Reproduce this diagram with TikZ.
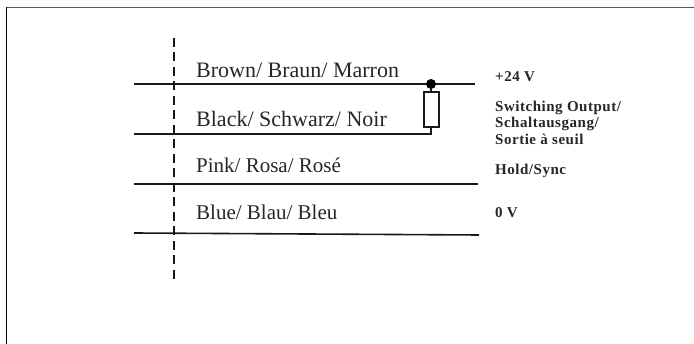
\documentclass[tikz,border=0pt]{standalone}
\usepackage{fontspec}
\setmainfont{Liberation Serif}
\newfontfamily\sigfont[LetterSpace=3.5]{Liberation Serif}
\tikzset{
  wire/.style={line width=2pt,black!90},
  thin wire/.style={line width=1.6pt,black!90},
  wirelabel/.style={anchor=base west,inner sep=0pt,font=\fontsize{22}{24}\selectfont,text=black!85},
  wirelabelb/.style={wirelabel,font=\fontsize{21}{24}\selectfont},
  sigshort/.style={anchor=base west,inner sep=0pt,font=\sigfont\fontsize{15}{15}\selectfont\bfseries,text=black!85,align=left},
  res/.style={draw=black!90,line width=2pt,fill=white,minimum width=15pt,minimum height=35pt,inner sep=0pt},
  dot/.style={circle,fill=black,inner sep=0pt,minimum size=10pt}
}
\begin{document}
\begin{tikzpicture}[x=1pt,y=-1pt]
\useasboundingbox (0,0) rectangle (694,344);
% frame
\coordinate (fa) at (6.5,344); \coordinate (fb) at (6.5,7.5); \coordinate (fc) at (694,7.5);
\draw[line width=1pt,black] (fa) -- (fb);
\draw[line width=1pt,black!65] (fb) -- (fc);
% wire ends
\coordinate (w1a) at (134,84); \coordinate (w1b) at (475,84);
\coordinate (w2a) at (134,134); \coordinate (w2b) at (431,134);
\coordinate (w3a) at (134,184); \coordinate (w3b) at (478,184);
\coordinate (w4a) at (134,233); \coordinate (w4b) at (479,235);
\coordinate (da) at (174,38); \coordinate (db) at (174,279);
\draw[wire] (w1a) -- (w1b);
\draw[wire] (w3a) -- (w3b);
\draw[thin wire] (w4a) -- (w4b);
\draw[line width=1.6pt,black!90,dash pattern=on 9pt off 5.5pt] (da) -- (db);
% resistor
\node[res] (r) at (431,110) {};
\node[dot] (j) at (431,84) {};
\draw[wire] (j) -- (r.north);
\draw[wire] (w2a) -- (w2b) -- (r.south);
% labels
\node[wirelabel] (l1) at (196,78) {Brown/ Braun/ Marron};
\node[wirelabel] (l2) at (196,126.5) {Black/ Schwarz/ Noir};
\node[wirelabelb] (l3) at (196,173) {Pink/ Rosa/ Rosé};
\node[wirelabelb] (l4) at (196,220) {Blue/ Blau/ Bleu};
\node[sigshort] (s1) at (495,82) {+24 V};
\node[sigshort] (s2a) at (495,112) {Switching Output/};
\node[sigshort] (s2b) at (495,128) {Schaltausgang/};
\node[sigshort] (s2c) at (495,144.5) {Sortie à seuil};
\node[sigshort] (s3) at (495,175) {Hold/Sync};
\node[sigshort] (s4) at (495,218) {0 V};
\end{tikzpicture}
\end{document}
